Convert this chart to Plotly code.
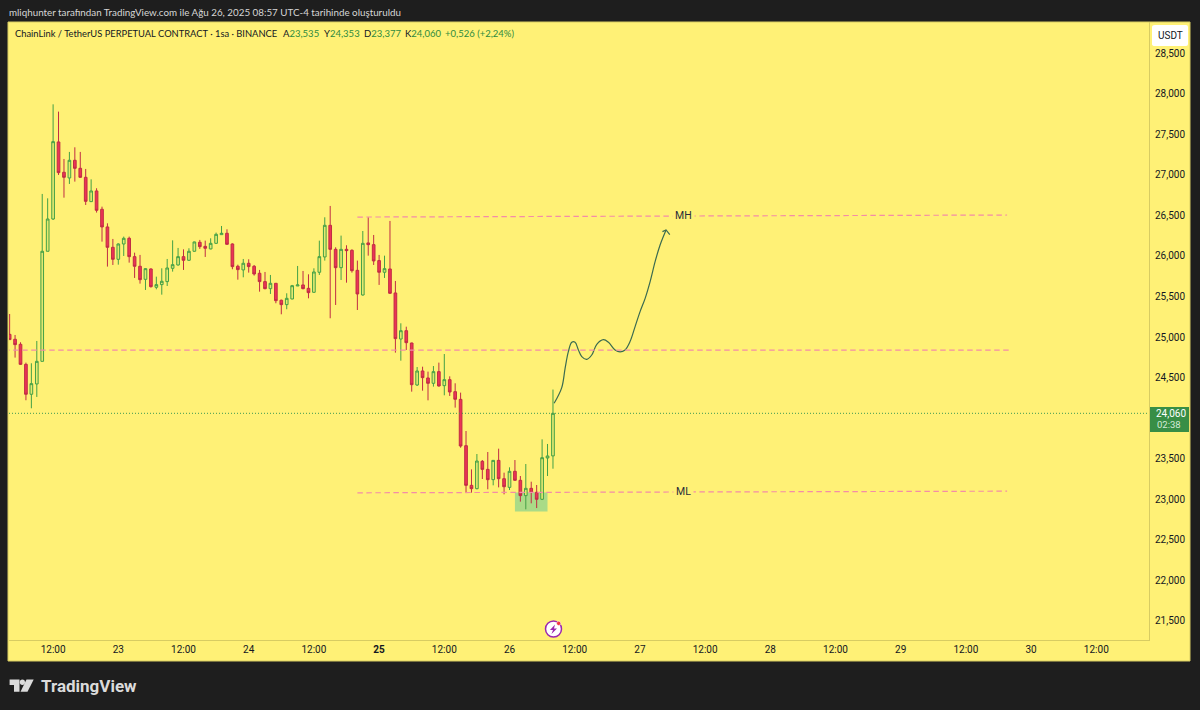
import pandas as pd
import plotly.graph_objects as go

W = 1200
H = 710
# plot area in window pixels
L, R, T, B = 9, 1149, 22, 640

times = pd.date_range("2025-08-22 04:00", periods=101, freq="h")

opens = [25.034, 24.973, 24.911, 24.664, 24.295, 24.422, 24.701, 26.058, 26.456, 27.406,
         27.032, 26.962, 27.180, 27.081, 26.970, 26.670, 26.802, 26.576, 26.358, 26.107,
         25.959, 26.148, 26.218, 25.992, 25.873, 25.712, 25.840, 25.614, 25.647, 25.684,
         25.848, 25.889, 25.992, 25.947, 26.058, 26.169, 26.119, 26.087, 26.156, 26.263,
         26.280, 26.148, 25.873, 25.828, 25.910, 25.873, 25.787, 25.684, 25.597, 25.663,
         25.454, 25.400, 25.470, 25.630, 25.643, 25.601, 25.552, 25.799, 25.988, 26.378,
         26.082, 25.856, 26.082, 26.070, 25.823, 25.519, 26.161, 26.140, 25.943, 25.799,
         25.840, 25.544, 24.976, 25.079, 24.927, 24.409, 24.582, 24.496, 24.430, 24.574,
         24.401, 24.475, 24.327, 24.232, 23.661, 23.172, 23.131, 23.468, 23.369, 23.242,
         23.480, 23.254, 23.147, 23.345, 23.234, 23.045, 23.135, 23.086, 23.000, 23.509,
         23.535]
highs = [25.285, 25.026, 24.936, 24.685, 24.677, 24.952, 26.765, 26.711, 27.870, 27.780,
         27.196, 27.283, 27.340, 27.283, 27.073, 26.945, 26.835, 26.608, 26.403, 26.210,
         26.156, 26.239, 26.239, 26.041, 26.013, 25.848, 25.848, 25.745, 25.848, 25.963,
         26.193, 26.099, 26.082, 26.095, 26.177, 26.198, 26.189, 26.218, 26.288, 26.370,
         26.329, 26.156, 25.893, 25.963, 25.959, 25.889, 25.828, 25.803, 25.766, 25.663,
         25.462, 25.540, 25.643, 25.877, 25.815, 25.774, 25.848, 26.189, 26.477, 26.617,
         26.107, 26.251, 26.132, 26.082, 25.943, 26.308, 26.477, 26.259, 26.013, 26.004,
         26.432, 25.692, 25.170, 25.128, 24.931, 24.631, 24.635, 24.574, 24.643, 24.685,
         24.791, 24.516, 24.430, 24.315, 23.842, 23.369, 23.558, 23.484, 23.583, 23.484,
         23.624, 23.328, 23.394, 23.484, 23.287, 23.435, 23.217, 23.176, 23.739, 23.682,
         24.353]
lows = [24.969, 24.747, 24.656, 24.221, 24.122, 24.262, 24.701, 26.058, 26.444, 26.999,
        26.719, 26.888, 26.917, 26.962, 26.629, 26.670, 26.535, 26.177, 25.869, 25.889,
        25.893, 26.000, 25.918, 25.729, 25.659, 25.581, 25.610, 25.589, 25.523, 25.630,
        25.807, 25.881, 25.828, 25.939, 26.054, 26.087, 25.988, 26.082, 26.152, 26.263,
        26.140, 25.836, 25.708, 25.737, 25.795, 25.758, 25.560, 25.589, 25.532, 25.417,
        25.281, 25.343, 25.466, 25.630, 25.589, 25.478, 25.548, 25.766, 25.943, 25.232,
        25.396, 25.704, 25.671, 25.795, 25.334, 25.511, 26.004, 25.889, 25.643, 25.729,
        25.532, 24.808, 24.709, 24.841, 24.327, 24.397, 24.339, 24.220, 24.389, 24.389,
        24.282, 24.274, 24.130, 23.636, 23.082, 23.082, 23.123, 23.250, 23.123, 23.172,
        23.147, 23.061, 23.114, 23.229, 22.971, 22.876, 22.950, 22.892, 22.991, 23.287,
        23.377]
closes = [24.969, 24.907, 24.664, 24.295, 24.426, 24.701, 26.058, 26.456, 27.410, 27.028,
          26.970, 27.180, 27.081, 26.970, 26.674, 26.802, 26.563, 26.358, 26.107, 25.959,
          26.148, 26.218, 25.992, 25.873, 25.708, 25.844, 25.622, 25.647, 25.688, 25.852,
          25.893, 25.992, 25.947, 26.058, 26.173, 26.115, 26.095, 26.156, 26.267, 26.280,
          26.144, 25.869, 25.832, 25.910, 25.869, 25.778, 25.684, 25.597, 25.663, 25.449,
          25.400, 25.478, 25.634, 25.643, 25.597, 25.548, 25.803, 25.992, 26.378, 26.082,
          25.856, 26.082, 26.066, 25.819, 25.532, 26.156, 26.140, 25.939, 25.799, 25.844,
          25.540, 24.981, 25.079, 24.931, 24.413, 24.582, 24.500, 24.430, 24.574, 24.397,
          24.475, 24.323, 24.233, 23.657, 23.172, 23.131, 23.472, 23.369, 23.242, 23.480,
          23.254, 23.155, 23.345, 23.234, 23.045, 23.135, 23.086, 23.000, 23.513, 23.534,
          24.060]

# hand drawn projection
path_times = ["2025-08-26 08:13", "2025-08-26 09:37", "2025-08-26 10:14", "2025-08-26 10:50",
              "2025-08-26 11:28", "2025-08-26 12:04", "2025-08-26 12:41", "2025-08-26 13:18",
              "2025-08-26 14:13", "2025-08-26 15:08", "2025-08-26 16:04", "2025-08-26 17:17",
              "2025-08-26 18:13", "2025-08-26 19:26", "2025-08-26 20:21", "2025-08-26 21:16",
              "2025-08-26 22:11", "2025-08-26 23:07", "2025-08-27 00:02", "2025-08-27 00:58",
              "2025-08-27 01:53", "2025-08-27 02:48", "2025-08-27 03:43", "2025-08-27 04:49"]
path_prices = [24.184, 24.377, 24.615, 24.821, 24.936, 24.936, 24.841, 24.759, 24.726, 24.779,
               24.911, 24.969, 24.936, 24.841, 24.817, 24.841, 24.944, 25.129, 25.314, 25.478,
               25.684, 25.930, 26.136, 26.321]
arrow_times = ["2025-08-27 04:09", "2025-08-27 04:49", "2025-08-27 05:30"]
arrow_prices = [26.300, 26.321, 26.263]

tick_times = ["2025-08-22 12:00", "2025-08-23 00:00", "2025-08-23 12:00", "2025-08-24 00:00",
              "2025-08-24 12:00", "2025-08-25 00:00", "2025-08-25 12:00", "2025-08-26 00:00",
              "2025-08-26 12:00", "2025-08-27 00:00", "2025-08-27 12:00", "2025-08-28 00:00",
              "2025-08-28 12:00", "2025-08-29 00:00", "2025-08-29 12:00", "2025-08-30 00:00",
              "2025-08-30 12:00"]
tick_text = ["12:00", "23", "12:00", "24", "12:00", "<b>25</b>", "12:00", "26", "12:00",
             "27", "12:00", "28", "12:00", "29", "12:00", "30", "12:00"]
price_ticks = [21.5, 22.0, 22.5, 23.0, 23.5, 24.5, 25.0, 25.5, 26.0, 26.5, 27.0, 27.5, 28.0, 28.5]

YELLOW = "#fff176"
DARK = "#1e1e1e"
FRAME = "#d8cc62"
PINK = "#f48ca8"
FONT = "Roboto"
TEXT_FONT = "Lato"


def px(x):
    return (x - L) / (R - L)


def py(y):
    return (B - y) / (B - T)


fig = go.Figure()
fig.add_trace(go.Candlestick(
    x=times, open=opens, high=highs, low=lows, close=closes,
    increasing=dict(line=dict(color="#43a047", width=1), fillcolor="#e4e96f"),
    decreasing=dict(line=dict(color="#c02c44", width=1), fillcolor="#ec3355"),
    whiskerwidth=0, hoverinfo="skip", showlegend=False))
fig.add_trace(go.Scatter(x=path_times, y=path_prices, mode="lines", hoverinfo="skip",
                         line=dict(color="#3a6b50", width=1.2, shape="spline"), showlegend=False))
fig.add_trace(go.Scatter(x=arrow_times, y=arrow_prices, mode="lines", hoverinfo="skip",
                         line=dict(color="#3a6b50", width=1.2), showlegend=False))

shapes = []
# panels behind the axes
shapes.append(dict(type="rect", xref="paper", yref="paper", x0=px(8), x1=px(1190), y0=py(661), y1=py(22),
                   fillcolor=YELLOW, line=dict(color=FRAME, width=1), layer="below"))
# levels
levels = [("2025-08-24 20:00", "2025-08-29 19:35", 26.480, 26.505),
          ("2025-08-22 03:00", "2025-08-29 20:00", 24.840, 24.840),
          ("2025-08-24 20:00", "2025-08-29 19:35", 23.080, 23.100)]
for x0, x1, y0, y1 in levels:
    shapes.append(dict(type="line", xref="x", yref="y", x0=x0, x1=x1, y0=y0, y1=y1,
                       line=dict(color=PINK, width=1.2, dash="5.5px,3.5px")))
# demand box
shapes.append(dict(type="rect", xref="x", yref="y", x0="2025-08-26 01:00", x1="2025-08-26 07:00",
                   y0=22.85, y1=23.085, fillcolor="rgba(100,200,150,0.55)", line=dict(width=0), layer="below"))
# last price line
shapes.append(dict(type="line", xref="paper", yref="y", x0=0, x1=1, y0=closes[-1], y1=closes[-1],
                   line=dict(color="#3f9a52", width=1, dash="1px,2px")))
# USDT button
shapes.append(dict(type="path", xref="paper", yref="paper", fillcolor="#ffffff", line=dict(width=0),
                   path="M %f %f L %f %f Q %f %f %f %f L %f %f Q %f %f %f %f L %f %f Q %f %f %f %f L %f %f Q %f %f %f %f Z" % (
                       px(1155), py(25), px(1186), py(25), px(1188), py(25), px(1188), py(27),
                       px(1188), py(44), px(1188), py(46), px(1186), py(46),
                       px(1155), py(46), px(1152), py(46), px(1152), py(44),
                       px(1152), py(27), px(1152), py(25), px(1155), py(25))))
# last price tag
shapes.append(dict(type="rect", xref="paper", yref="paper", x0=px(1150), x1=px(1189), y0=py(432), y1=py(407),
                   fillcolor="#388e46", line=dict(width=0)))
# bolt icon
shapes.append(dict(type="circle", xref="paper", yref="paper", x0=px(545.5), x1=px(561.5), y0=py(637), y1=py(621),
                   fillcolor="#ffffff", line=dict(color="#9c27b0", width=1.5)))
shapes.append(dict(type="path", xref="paper", yref="paper", fillcolor="#9c27b0", line=dict(width=0),
                   path="M %f %f L %f %f L %f %f L %f %f L %f %f L %f %f Z" % (
                       px(555), py(624.5), px(550), py(630), px(553), py(630),
                       px(551.5), py(634), px(557), py(628.5), px(554), py(628.5))))
shapes.append(dict(type="circle", xref="paper", yref="paper", x0=px(556.5), x1=px(560.8), y0=py(625.5), y1=py(621.2),
                   fillcolor="#f23645", line=dict(color="#ffffff", width=0.5)))
# TradingView logo
logo = [[(9.6, 679.5), (19.5, 679.5), (19.5, 691.7), (14, 691.7), (14, 685), (9.6, 685)],
        [(26.5, 679.5), (33.7, 679.5), (27.5, 691.7), (20.5, 691.7)]]
for pts in logo:
    d = "M " + " L ".join("%f %f" % (px(a), py(b)) for a, b in pts) + " Z"
    shapes.append(dict(type="path", xref="paper", yref="paper", path=d, fillcolor="#dbdbdb", line=dict(width=0)))
shapes.append(dict(type="circle", xref="paper", yref="paper", x0=px(19.8), x1=px(25), y0=py(685), y1=py(679.6),
                   fillcolor="#dbdbdb", line=dict(width=0)))

g = '<span style="color:#2e8b3d">%s</span>'


def note(x, y, text, size, color, anchor="left", family=FONT, **kw):
    return dict(xref="paper", yref="paper", x=px(x), y=py(y), text=text, showarrow=False, xanchor=anchor,
                yanchor="middle", font=dict(family=family, size=size, color=color), **kw)


annotations = [
    note(6.5, 12, "mliqhunter tarafından TradingView.com ile Ağu 26, 2025 08:57 UTC-4 tarihinde oluşturuldu",
         9.8, "#d6d6d6", family=TEXT_FONT),
    note(12.8, 33.5, "ChainLink / TetherUS PERPETUAL CONTRACT · 1sa · BINANCE", 9.35, "#131722", family=TEXT_FONT),
    note(281, 33.5, "A" + g % "23,535", 9.5, "#131722", family=TEXT_FONT),
    note(321.7, 33.5, "Y" + g % "24,353", 9.5, "#131722", family=TEXT_FONT),
    note(362, 33.5, "D" + g % "23,377", 9.5, "#131722", family=TEXT_FONT),
    note(403, 33.5, "K" + g % "24,060", 9.5, "#131722", family=TEXT_FONT),
    note(443, 33.5, g % "+0,526 (+2,24%)", 9.5, "#131722", family=TEXT_FONT),
    note(1170, 36, "USDT", 10, "#131722", "center"),
    note(1153.5, 413, "24,060", 10, "#ffffff"),
    note(1155, 424.5, "02:38", 9.5, "#d5ead8"),
    note(38.5, 686, "<b>TradingView</b>", 17, "#dbdbdb"),
    dict(xref="x", yref="y", x="2025-08-27 08:00", y=26.495, text="MH", showarrow=False, bgcolor=YELLOW,
         borderpad=2, font=dict(family=FONT, size=10.5, color="#2a2e39")),
    dict(xref="x", yref="y", x="2025-08-27 08:00", y=23.09, text="ML", showarrow=False, bgcolor=YELLOW,
         borderpad=2, font=dict(family=FONT, size=10.5, color="#2a2e39")),
]

fig.update_layout(
    width=W, height=H,
    margin=dict(l=L, r=W - R, t=T, b=H - B, pad=0),
    paper_bgcolor=DARK, plot_bgcolor=YELLOW,
    separators=",.",
    font=dict(family=FONT, size=10, color="#131722"),
    showlegend=False,
    shapes=shapes, annotations=annotations,
    xaxis=dict(type="date", range=["2025-08-22 03:53", "2025-08-30 21:42"], rangeslider=dict(visible=False),
               tickmode="array", tickvals=tick_times, ticktext=tick_text, tickangle=0,
               showgrid=False, zeroline=False, showline=True, linecolor=FRAME, linewidth=1, ticks=""),
    yaxis=dict(side="right", range=[21.265, 28.885], tickmode="array", tickvals=price_ticks, tickformat=".3f",
               ticklabelstandoff=3,
               showgrid=False, zeroline=False, showline=True, linecolor=FRAME, linewidth=1, ticks=""),
)

fig.write_html("out.html", config={"displayModeBar": False},
               post_script="document.body.style.margin='0';document.body.style.background='%s';" % DARK)
